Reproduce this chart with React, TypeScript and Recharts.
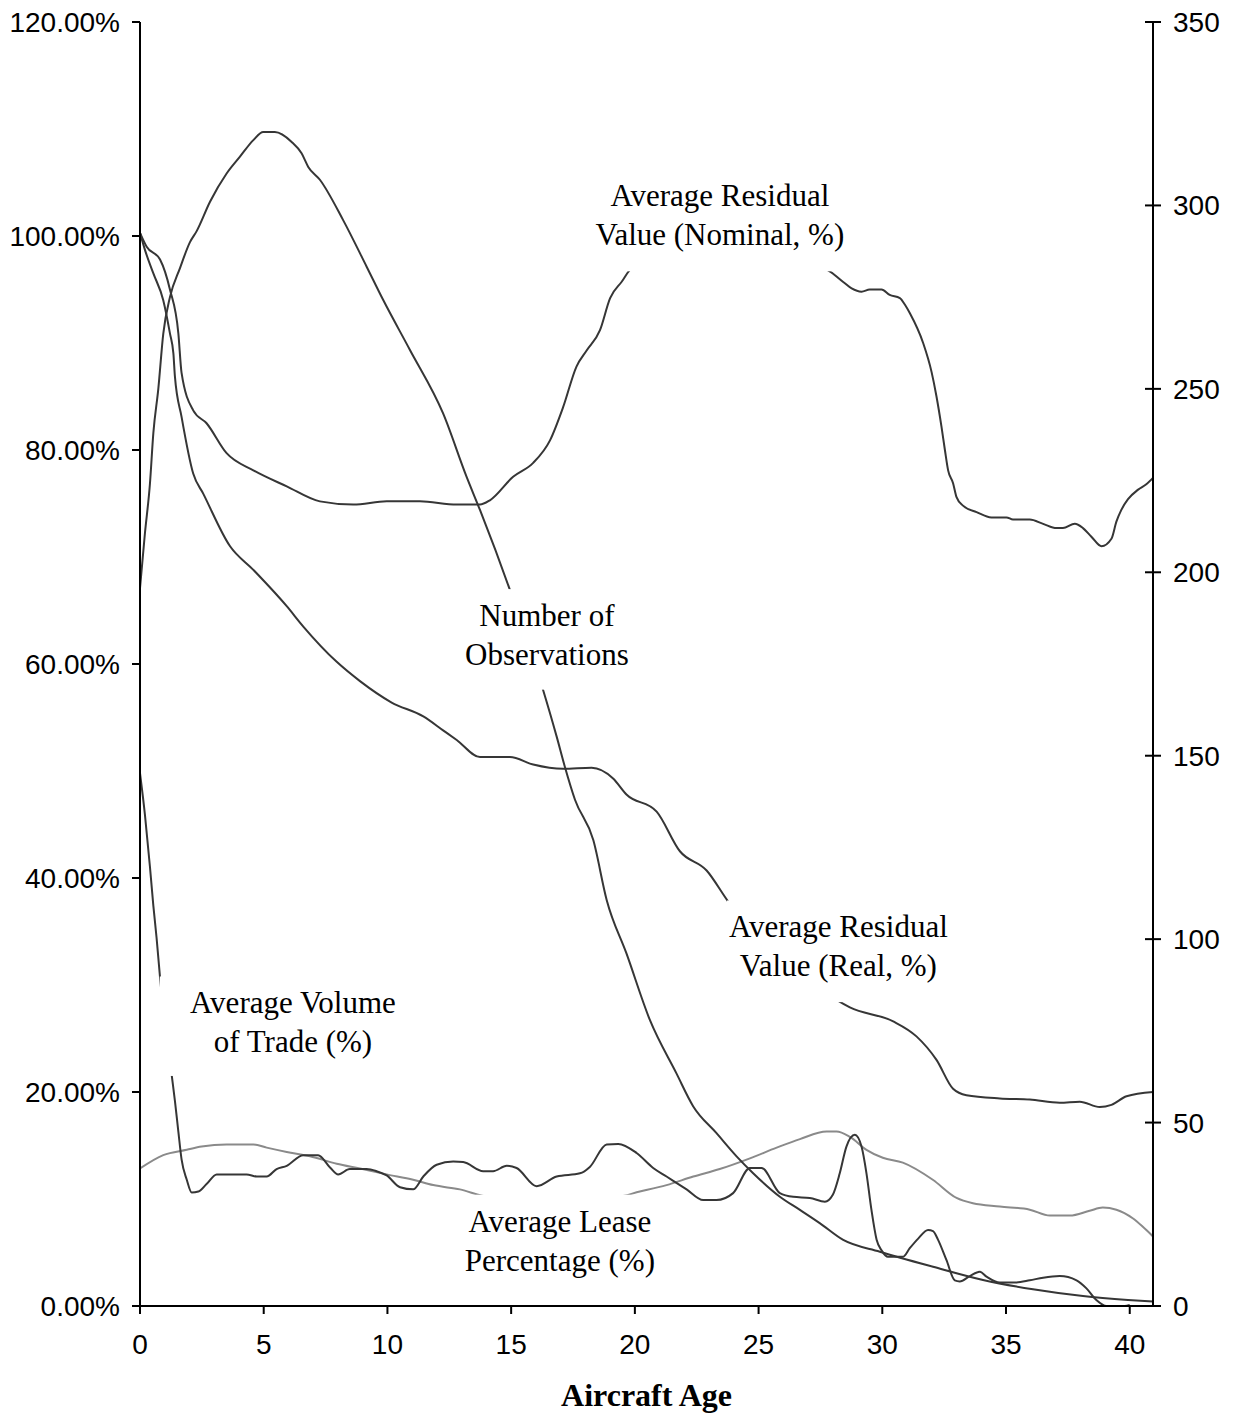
import { LineChart, Line, XAxis, YAxis, ReferenceArea } from 'recharts';

// axis ticks
const ageTicks = [0, 5, 10, 15, 20, 25, 30, 35, 40];
const pctTicks = [0, 20, 40, 60, 80, 100, 120];
const obsTicks = [0, 50, 100, 150, 200, 250, 300, 350];

// Average Residual Value (Nominal, %)
const nominalAge = [0, 0.27, 0.81, 1.21, 1.55, 1.68, 2.15, 2.69, 3.5, 4.58, 5.93, 7.27, 8.62, 9.97, 11.31, 12.8, 13.74, 14.14, 15.08, 15.89, 16.57, 17.1, 17.64, 18.05, 18.59, 19.0, 19.46, 19.93, 27.54, 28.42, 28.76, 29.16, 29.49, 29.97, 30.3, 30.71, 30.91, 31.11, 31.65, 31.99, 32.19, 32.39, 32.53, 32.66, 32.86, 33.0, 33.26, 33.81, 34.41, 35.02, 35.28, 35.96, 36.5, 37.04, 37.3, 37.78, 38.11, 38.45, 38.86, 39.26, 39.46, 39.66, 39.93, 40.34, 40.67, 40.94];
const nominalPct = [100.3, 99.0, 97.8, 95.0, 90.9, 87.2, 83.7, 82.5, 79.7, 78.1, 76.6, 75.2, 74.9, 75.2, 75.2, 74.9, 74.9, 75.3, 77.5, 78.8, 80.9, 84.0, 87.8, 89.3, 91.2, 94.2, 95.7, 97.0, 97.0, 95.7, 95.1, 94.8, 95.0, 95.0, 94.5, 94.2, 93.6, 92.8, 90.0, 87.3, 85.0, 82.2, 80.0, 78.1, 76.9, 75.6, 74.8, 74.2, 73.7, 73.7, 73.5, 73.5, 73.1, 72.7, 72.7, 73.1, 72.7, 71.9, 71.0, 71.7, 73.3, 74.4, 75.4, 76.3, 76.8, 77.4];

// Average Residual Value (Real, %)
const realAge = [0, 0.2, 0.54, 0.94, 1.21, 1.35, 1.41, 1.68, 2.15, 2.56, 3.64, 4.58, 5.93, 6.6, 7.95, 8.89, 10.17, 11.45, 12.25, 12.8, 13.74, 14.95, 15.89, 17.1, 18.25, 19.12, 19.66, 20.88, 21.82, 22.9, 23.77, 28.15, 28.69, 30.44, 31.38, 32.19, 32.86, 33.4, 34.75, 35.96, 37.17, 37.98, 38.79, 39.26, 39.87, 40.94];
const realPct = [100.3, 98.7, 96.5, 94.0, 90.9, 89.0, 86.9, 83.1, 77.8, 75.9, 71.0, 68.8, 65.4, 63.5, 60.2, 58.4, 56.4, 55.1, 53.8, 52.9, 51.3, 51.3, 50.6, 50.2, 50.3, 49.3, 47.8, 46.2, 42.5, 40.7, 37.8, 28.6, 27.9, 26.6, 25.2, 23.0, 20.3, 19.7, 19.4, 19.3, 19.0, 19.1, 18.6, 18.8, 19.6, 20.0];

// Number of Observations (right axis)
const obsAge = [0, 0.2, 0.4, 0.54, 0.74, 0.94, 1.21, 1.62, 2.02, 2.29, 2.83, 3.5, 4.04, 4.58, 4.98, 5.45, 6.13, 6.53, 6.8, 7.27, 8.21, 9.16, 9.83, 10.91, 12.25, 13.2, 13.74, 14.95, 16.27, 16.84, 17.17, 17.58, 18.32, 18.86, 19.66, 20.61, 21.68, 22.36, 23.3, 24.11, 24.78, 25.86, 26.67, 27.47, 28.42, 29.9, 32.05, 34.07, 36.09, 38.11, 39.93, 40.94];
const obsCount = [195.7, 210.7, 224, 238, 250, 265, 275, 283, 290, 293, 301, 308.7, 313.3, 317.8, 320, 320, 317.3, 314.2, 310.5, 307, 296, 283.3, 274.2, 260.6, 243.3, 226, 217, 195.2, 168.4, 155.2, 147, 138, 127, 110.7, 96.1, 77.9, 63.4, 54.4, 47.1, 40.8, 36.2, 29.8, 26.2, 22.6, 18.0, 14.8, 10.7, 7.1, 4.55, 2.7, 1.64, 1.2];

// Average Volume of Trade (%)
const volumeAge = [0, 0.2, 0.4, 0.54, 0.67, 0.81, 1.28, 1.41, 1.55, 1.68, 1.89, 2.09, 2.36, 2.69, 3.1, 4.31, 4.72, 5.12, 5.52, 5.93, 6.6, 7.2, 7.68, 8.01, 8.48, 9.16, 9.56, 9.97, 10.51, 11.04, 11.45, 11.99, 12.66, 13.06, 13.87, 14.27, 14.82, 15.22, 16.03, 16.84, 17.78, 18.18, 18.86, 19.33, 20.07, 20.74, 21.28, 22.09, 22.76, 23.3, 23.97, 24.65, 25.12, 25.86, 26.4, 27.07, 27.68, 28.0, 28.28, 28.55, 28.89, 29.16, 29.36, 29.56, 29.77, 29.97, 30.23, 30.84, 31.11, 31.45, 31.85, 32.05, 32.25, 32.59, 32.93, 33.13, 33.54, 33.94, 34.21, 34.75, 35.42, 35.96, 36.5, 37.17, 37.85, 38.25, 38.65, 39.06, 39.8, 40.0];
const volumePct = [49.8, 45.9, 41.1, 37.4, 34.4, 30.7, 21.6, 19.2, 16.3, 13.7, 11.8, 10.6, 10.7, 11.4, 12.3, 12.3, 12.1, 12.1, 12.8, 13.1, 14.1, 14.1, 12.95, 12.3, 12.8, 12.8, 12.6, 12.2, 11.1, 10.9, 12.1, 13.2, 13.5, 13.45, 12.6, 12.6, 13.1, 12.9, 11.2, 12.1, 12.4, 13.0, 15.1, 15.15, 14.3, 12.9, 12.1, 10.9, 9.9, 9.9, 10.55, 12.9, 12.9, 10.55, 10.2, 10.1, 9.75, 10.4, 12.4, 14.9, 16.0, 14.9, 12.4, 9.0, 6.2, 5.2, 4.6, 4.6, 5.4, 6.3, 7.1, 7.0, 6.2, 4.3, 2.4, 2.3, 2.8, 3.2, 2.75, 2.2, 2.2, 2.4, 2.65, 2.8, 2.4, 1.65, 0.56, 0, 0, 0.1];

// Average Lease Percentage (%)
const leaseAge = [0, 0.94, 1.89, 2.49, 3.5, 4.58, 5.12, 5.93, 6.87, 7.95, 8.89, 9.97, 11.04, 11.85, 12.93, 14.14, 19.26, 20.2, 21.28, 22.36, 23.43, 24.65, 25.73, 26.67, 27.75, 28.15, 28.69, 29.36, 30.02, 30.83, 32.04, 33.0, 33.66, 34.75, 35.96, 36.77, 37.58, 38.38, 38.91, 39.46, 40.12, 40.53, 40.94];
const leasePct = [12.85, 14.1, 14.6, 14.9, 15.1, 15.1, 14.8, 14.4, 14.0, 13.3, 12.85, 12.3, 11.8, 11.3, 10.9, 10.2, 10.2, 10.7, 11.3, 12.1, 12.8, 13.8, 14.8, 15.6, 16.3, 16.3, 15.8, 14.6, 13.85, 13.4, 11.8, 10.1, 9.6, 9.3, 9.0, 8.45, 8.45, 8.9, 9.2, 9.0, 8.2, 7.4, 6.5];

const toPoints = (ages: number[], values: number[]) =>
  ages.map((age, i) => ({ age, value: values[i] }));

// text boxes on the plot (white fill hides the lines under them), in data units of age / left axis
const notes = [
  { id: 'nominal', x1: 18.18, x2: 28.69, y1: 96.7, y2: 106.3, lines: ['Average Residual', 'Value (Nominal, %)'] },
  { id: 'real', x1: 23.72, x2: 32.73, y1: 28.4, y2: 37.9, lines: ['Average Residual', 'Value (Real, %)'] },
  { id: 'obs', x1: 13.13, x2: 19.76, y1: 57.6, y2: 67.0, lines: ['Number of', 'Observations'] },
  { id: 'volume', x1: 0.8, x2: 11.56, y1: 21.5, y2: 30.8, lines: ['Average Volume', 'of Trade (%)'] },
  { id: 'lease', x1: 13.17, x2: 20.77, y1: 1.5, y2: 10.4, lines: ['Average Lease', 'Percentage (%)'] },
];

const SANS = '"Liberation Sans", Arial, sans-serif';
const SERIF = '"Liberation Serif", "Times New Roman", serif';
const DARK = '#363636';
const GREY = '#8a8a8a';

function NoteBox(props: any) {
  const { x, y, width, height, lines } = props;
  return (
    <g>
      <rect x={x} y={y} width={width} height={height} fill="#ffffff" stroke="none" />
      {lines.map((t: string, i: number) => (
        <text
          key={i}
          x={x + width / 2}
          y={y + 37 + i * 39}
          textAnchor="middle"
          fontFamily={SERIF}
          fontSize={31}
          fill="#000"
        >
          {t}
        </text>
      ))}
    </g>
  );
}

function RightTick(props: any) {
  const { x, y, payload } = props;
  const axisX = x - 20;
  return (
    <g>
      <line x1={axisX - 8} x2={axisX + 8} y1={y} y2={y} stroke="#000" strokeWidth={2} />
      <text x={x} y={y} dy="0.355em" textAnchor="start" fontFamily={SANS} fontSize={28} fill="#000">
        {payload.value}
      </text>
    </g>
  );
}

export default function App() {
  return (
    <div style={{ position: 'absolute', left: 0, top: 0, background: '#fff' }}>
      <LineChart width={1233} height={1416} margin={{ top: 22, right: 0, bottom: 0, left: 0 }}>
        <XAxis
          type="number"
          dataKey="age"
          domain={[0, 40.94]}
          allowDataOverflow
          ticks={ageTicks}
          interval={0}
          height={110}
          tickSize={8}
          tickMargin={20}
          axisLine={{ stroke: '#000', strokeWidth: 2 }}
          tickLine={{ stroke: '#000', strokeWidth: 2 }}
          tick={{ fill: '#000', fontSize: 28, fontFamily: SANS }}
          label={{
            value: 'Aircraft Age',
            position: 'insideBottom',
            offset: 10,
            fill: '#000',
            fontSize: 32,
            fontWeight: 'bold',
            fontFamily: SERIF,
          }}
        />
        <YAxis
          yAxisId="left"
          orientation="left"
          domain={[0, 120]}
          ticks={pctTicks}
          interval={0}
          width={140}
          tickSize={8}
          tickMargin={12}
          axisLine={{ stroke: '#000', strokeWidth: 2 }}
          tickLine={{ stroke: '#000', strokeWidth: 2 }}
          tick={{ fill: '#000', fontSize: 28, fontFamily: SANS }}
          tickFormatter={(v: number) => `${v.toFixed(2)}%`}
        />
        <YAxis
          yAxisId="right"
          orientation="right"
          domain={[0, 350]}
          ticks={obsTicks}
          interval={0}
          width={80}
          tickSize={8}
          tickMargin={12}
          axisLine={{ stroke: '#000', strokeWidth: 2 }}
          tickLine={false}
          tick={<RightTick />}
        />
        <Line yAxisId="left" data={toPoints(leaseAge, leasePct)} dataKey="value" type="monotone" stroke={GREY} strokeWidth={2} dot={false} activeDot={false} isAnimationActive={false} />
        <Line yAxisId="left" data={toPoints(volumeAge, volumePct)} dataKey="value" type="monotone" stroke={DARK} strokeWidth={2} dot={false} activeDot={false} isAnimationActive={false} />
        <Line yAxisId="left" data={toPoints(realAge, realPct)} dataKey="value" type="monotone" stroke={DARK} strokeWidth={2} dot={false} activeDot={false} isAnimationActive={false} />
        <Line yAxisId="left" data={toPoints(nominalAge, nominalPct)} dataKey="value" type="monotone" stroke={DARK} strokeWidth={2} dot={false} activeDot={false} isAnimationActive={false} />
        <Line yAxisId="right" data={toPoints(obsAge, obsCount)} dataKey="value" type="monotone" stroke={DARK} strokeWidth={2} dot={false} activeDot={false} isAnimationActive={false} />
        {notes.map((n) => (
          <ReferenceArea
            key={n.id}
            yAxisId="left"
            x1={n.x1}
            x2={n.x2}
            y1={n.y1}
            y2={n.y2}
            ifOverflow="visible"
            zIndex={450}
            shape={(p: any) => <NoteBox {...p} lines={n.lines} />}
          />
        ))}
      </LineChart>
    </div>
  );
}
